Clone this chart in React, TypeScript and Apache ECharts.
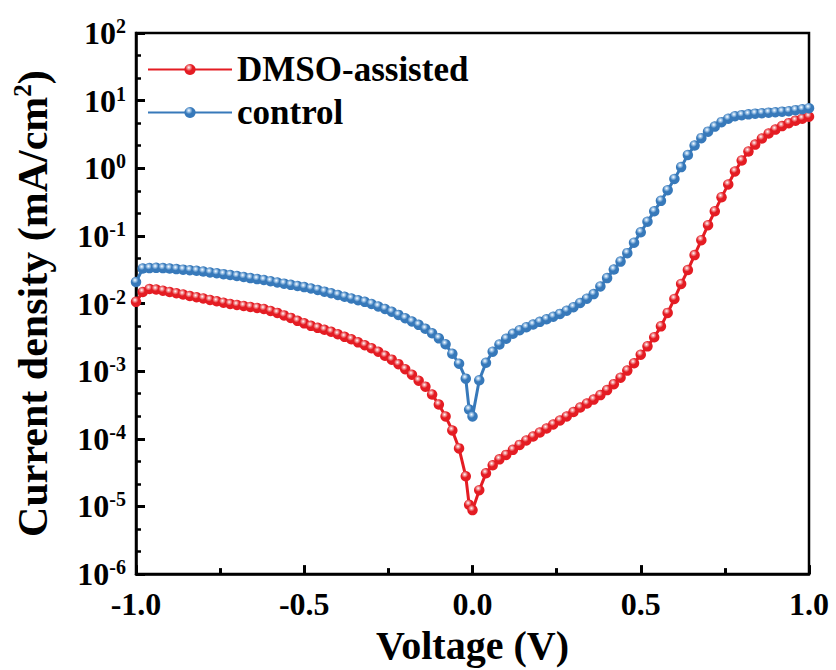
import React, { useEffect, useRef } from "react";
import * as echarts from "echarts";

const voltage = [
  -1.0, -0.98, -0.96, -0.94, -0.92, -0.9, -0.88, -0.86, -0.84, -0.82,
  -0.8, -0.78, -0.76, -0.74, -0.72, -0.7, -0.68, -0.66, -0.64, -0.62,
  -0.6, -0.58, -0.56, -0.54, -0.52, -0.5, -0.48, -0.46, -0.44, -0.42,
  -0.4, -0.38, -0.36, -0.34, -0.32, -0.3, -0.28, -0.26, -0.24, -0.22,
  -0.2, -0.18, -0.16, -0.14, -0.12, -0.1, -0.08, -0.06, -0.04, -0.02,
  -0.01, 0.0,
  0.02, 0.04, 0.06, 0.08, 0.1, 0.12, 0.14, 0.16, 0.18, 0.2,
  0.22, 0.24, 0.26, 0.28, 0.3, 0.32, 0.34, 0.36, 0.38, 0.4,
  0.42, 0.44, 0.46, 0.48, 0.5, 0.52, 0.54, 0.56, 0.58, 0.6,
  0.62, 0.64, 0.66, 0.68, 0.7, 0.72, 0.74, 0.76, 0.78, 0.8,
  0.82, 0.84, 0.86, 0.88, 0.9, 0.92, 0.94, 0.96, 0.98, 1.0,
];

const dmsoAssisted = [
  0.0106, 0.0148, 0.0164, 0.0161, 0.0155, 0.0148, 0.0142, 0.0136, 0.0129, 0.0124,
  0.0119, 0.0113, 0.0108, 0.0103, 0.00987, 0.00953, 0.00922, 0.00891, 0.00861, 0.00832,
  0.00778, 0.00727, 0.00668, 0.00614, 0.00555, 0.0051, 0.00468, 0.00437, 0.00409, 0.00382,
  0.00351, 0.00322, 0.00296, 0.00267, 0.00242, 0.00218, 0.00194, 0.00169, 0.00148, 0.00127,
  0.00107, 8.87e-4, 7.24e-4, 5.91e-4, 4.51e-4, 3.21e-4, 2.14e-4, 1.33e-4, 7.22e-5, 2.79e-5,
  1.06e-5, 8.83e-6,
  1.74e-5, 3.09e-5, 4.06e-5, 4.97e-5, 5.79e-5, 6.87e-5, 8.13e-5, 9.46e-5, 1.08e-4, 1.24e-4,
  1.42e-4, 1.63e-4, 1.87e-4, 2.14e-4, 2.49e-4, 2.9e-4, 3.32e-4, 3.8e-4, 4.43e-4, 5.25e-4,
  6.43e-4, 8.01e-4, 1.02e-3, 1.31e-3, 1.75e-3, 2.33e-3, 3.17e-3, 4.6e-3, 7.27e-3, 0.0117,
  0.0195, 0.0313, 0.052, 0.0865, 0.144, 0.231, 0.372, 0.577, 0.897, 1.3,
  1.77, 2.24, 2.75, 3.26, 3.73, 4.2, 4.65, 5.06, 5.41, 5.79,
];

const control = [
  0.0208, 0.0329, 0.0334, 0.0337, 0.0334, 0.0329, 0.0323, 0.0317, 0.0311, 0.0305,
  0.0297, 0.0288, 0.0281, 0.0272, 0.0264, 0.0255, 0.0247, 0.0238, 0.023, 0.0223,
  0.0214, 0.0205, 0.0197, 0.0189, 0.0182, 0.0175, 0.0167, 0.0159, 0.015, 0.0142,
  0.0134, 0.0126, 0.0119, 0.0112, 0.0106, 0.00987, 0.00906, 0.00832, 0.00757, 0.00679,
  0.00607, 0.00543, 0.00484, 0.00423, 0.00363, 0.00306, 0.0025, 0.00181, 0.00129, 7.76e-4,
  2.71e-4, 2.14e-4,
  7.33e-4, 0.00133, 0.00194, 0.00248, 0.00301, 0.00357, 0.00403, 0.00446, 0.00489, 0.00536,
  0.00585, 0.00639, 0.00703, 0.00783, 0.00883, 0.0102, 0.0118, 0.0138, 0.0179, 0.0238,
  0.0318, 0.0417, 0.0556, 0.0794, 0.113, 0.162, 0.231, 0.33, 0.474, 0.695,
  1.04, 1.57, 2.17, 2.79, 3.48, 4.13, 4.81, 5.41, 5.89, 6.1,
  6.27, 6.42, 6.52, 6.64, 6.75, 6.87, 6.98, 7.23, 7.47, 7.73,
];

const seriesNames = ["DMSO-assisted", "control"];
const xTicks = [-1.0, -0.5, 0.0, 0.5, 1.0];

const FONT = "Liberation Serif";
const RED = "#e41c23";
const BLUE = "#3779ba";

function ball(base: string, light: string) {
  return {
    type: "radial",
    x: 0.4,
    y: 0.32,
    r: 0.72,
    colorStops: [
      { offset: 0, color: "#ffffff" },
      { offset: 0.18, color: light },
      { offset: 0.45, color: base },
      { offset: 1, color: base },
    ],
  };
}

export default function App() {
  const ref = useRef<HTMLDivElement>(null);
  useEffect(() => {
    if (!ref.current) return;
    const chart = echarts.init(ref.current, undefined, { renderer: "svg" });
    const mk = (arr: number[]) => voltage.map((v, i) => [v, arr[i]]);
    const option: any = {
      animation: false,
      backgroundColor: "#fff",
      grid: {
        left: 136,
        right: 27,
        top: 33,
        bottom: 94,
        show: true,
        borderColor: "#000",
        borderWidth: 2.5,
      },
      legend: {
        orient: "vertical",
        left: 142,
        top: 47,
        itemWidth: 84,
        itemHeight: 14,
        itemGap: 8,
        data: seriesNames,
        textStyle: {
          fontFamily: FONT,
          fontWeight: "bold",
          fontSize: 35,
          color: "#000",
        },
      },
      xAxis: {
        type: "value",
        min: -1,
        max: 1,
        interval: 0.5,
        axisLine: { show: true, onZero: false, lineStyle: { color: "#000", width: 2.5 } },
        axisTick: { show: true, inside: true, length: 9, lineStyle: { color: "#000", width: 3 } },
        minorTick: { show: true, splitNumber: 2, length: 6, lineStyle: { color: "#000", width: 3 } },
        splitLine: { show: false },
        axisLabel: {
          margin: 14,
          fontFamily: FONT,
          fontWeight: "bold",
          fontSize: 32,
          color: "#000",
          formatter: (v: number) => (xTicks.includes(v) ? v.toFixed(1) : ""),
        },
        name: "Voltage (V)",
        nameLocation: "middle",
        nameGap: 46,
        nameTextStyle: { fontFamily: FONT, fontWeight: "bold", fontSize: 40, color: "#000" },
      },
      yAxis: [
        {
          type: "log",
          logBase: 10,
          min: 1e-6,
          max: 100,
          interval: 1,
          axisLine: { show: true, onZero: false, lineStyle: { color: "#000", width: 2.5 } },
          axisTick: { show: true, inside: true, length: 9, lineStyle: { color: "#000", width: 3 } },
          minorTick: { show: false },
          splitLine: { show: false },
          axisLabel: {
            margin: 10,
            formatter: (v: number) => `{b|10}{s|${Math.round(Math.log10(v))}}`,
            rich: {
              b: { fontFamily: FONT, fontWeight: "bold", fontSize: 32, color: "#000", lineHeight: 34 },
              s: { fontFamily: FONT, fontWeight: "bold", fontSize: 20, color: "#000", verticalAlign: "top", lineHeight: 20 },
            },
          },
          name: "{a|Current density (mA/cm}{s|2}{a|)}",
          nameLocation: "middle",
          nameGap: 80,
          nameTextStyle: {
            rich: {
              a: { fontFamily: FONT, fontWeight: "bold", fontSize: 42, color: "#000", lineHeight: 46 },
              s: { fontFamily: FONT, fontWeight: "bold", fontSize: 25, color: "#000", verticalAlign: "top", lineHeight: 25 },
            },
          },
        },
        {
          // minor ticks: thirds of each decade (exponent space)
          type: "value",
          position: "left",
          min: -6,
          max: 2,
          interval: 1 / 3,
          axisLine: { show: false, onZero: false },
          axisTick: { show: true, inside: true, length: 5, lineStyle: { color: "#000", width: 2.5 } },
          axisLabel: { show: false },
          splitLine: { show: false },
        },
      ],
      series: [
        {
          name: seriesNames[0],
          type: "line",
          data: mk(dmsoAssisted),
          symbol: "circle",
          symbolSize: 10.5,
          lineStyle: { color: RED, width: 3 },
          itemStyle: { color: ball(RED, "#f4a0a2") },
          z: 2,
        },
        {
          name: seriesNames[1],
          type: "line",
          data: mk(control),
          symbol: "circle",
          symbolSize: 10.5,
          lineStyle: { color: BLUE, width: 3 },
          itemStyle: { color: ball(BLUE, "#a9cbeb") },
          z: 3,
        },
      ],
    };
    chart.setOption(option);
    return () => chart.dispose();
  }, []);
  return (
    <div
      ref={ref}
      style={{ position: "fixed", left: 0, top: 0, width: 836, height: 670 }}
    />
  );
}
